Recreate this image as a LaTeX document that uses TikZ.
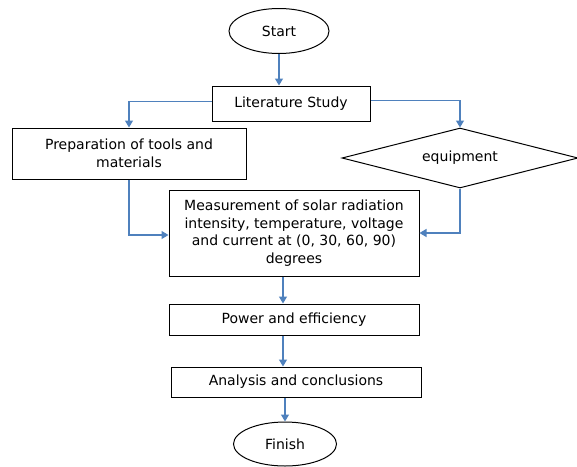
\documentclass[tikz,border=0pt]{standalone}
\usepackage{fontspec}
\setmainfont{DejaVu Sans}
\usetikzlibrary{shapes,arrows.meta}
\definecolor{fc_blue}{RGB}{79,129,189}
\tikzstyle{box}=[rectangle,draw=black,line width=1pt,align=center,inner sep=2pt]
\tikzstyle{term}=[ellipse,draw=black,line width=1pt,inner sep=0pt]
\tikzstyle{cond}=[diamond,aspect=3.93,draw=black,line width=1pt,inner sep=0pt]
\tikzstyle{flow}=[draw=fc_blue,line width=1.2pt,-{Triangle[length=7pt,width=8pt]}]

\begin{document}
\begin{tikzpicture}[x=1pt,y=-1pt,font=\fontsize{14}{17.5}\selectfont]
    \useasboundingbox (0,0) rectangle (577,466);
    \node [style=term,minimum width=100pt,minimum height=45pt] (start) at (279,31) {Start};
    \node [style=box,minimum width=158pt,minimum height=35pt] (lit) at (291,103.5) {Literature Study};
    \node [style=box,minimum width=234pt,minimum height=51pt] (prep) at (129,153.5) {Preparation of tools and\\materials};
    \node [style=cond,minimum width=236pt,minimum height=60pt] (equip) at (460,158) {equipment};
    \node [style=box,minimum width=250pt,minimum height=86pt] (meas) at (294,233) {Measurement of solar radiation\\intensity, temperature, voltage\\and current at (0, 30, 60, 90)\\degrees};
    \node [style=box,minimum width=250pt,minimum height=31pt] (power) at (294,319.5) {Power and efficiency};
    \node [style=box,minimum width=250pt,minimum height=30pt] (anal) at (296,382) {Analysis and conclusions};
    \node [style=term,minimum width=103pt,minimum height=44pt] (finish) at (285,444) {Finish};
    \draw [style=flow] (start.south) to (start.south |- lit.north);
    \draw [style=flow] ([yshift=2pt]lit.west) -| (prep.north);
    \draw [style=flow] ([yshift=3pt]lit.east) -| (equip.north);
    \draw [style=flow] (prep.south) |- ([yshift=-2pt]meas.west);
    \draw [style=flow] (equip.south) |- (meas.east);
    \draw [style=flow] ([xshift=-11pt]meas.south) to ([xshift=-11pt]power.north);
    \draw [style=flow] ([xshift=-11pt]power.south) to ([xshift=-11pt]power.south |- anal.north);
    \draw [style=flow] (anal.south -| finish.north) to (finish.north);
  \end{tikzpicture}
\end{document}
